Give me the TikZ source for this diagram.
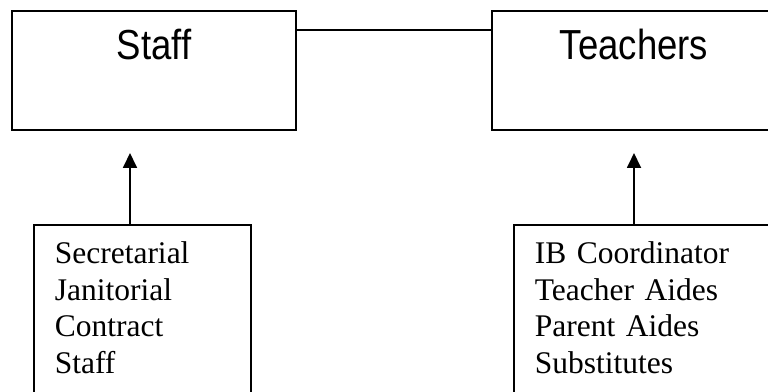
\documentclass[tikz,border=0pt]{standalone}
\usepackage{fontspec}
\setmainfont{Liberation Serif}
\newfontfamily\headfont[FakeStretch=0.87]{Liberation Sans}
\usetikzlibrary{arrows.meta, positioning}

\tikzset{
  headbox/.style={draw, line width=2pt, rectangle, minimum width=284pt, inner xsep=0pt, inner ysep=0pt,
    text height=49pt, text depth=70pt, font=\headfont\fontsize{42}{50}\selectfont},
  listbox/.style={draw, line width=1.6pt, rectangle, align=left, anchor=north west, text width=175pt,
    inner xsep=21pt, inner ysep=0pt, text height=39pt, text depth=145pt, font=\fontsize{31.5}{36.5}\selectfont},
  uparrow/.style={line width=1.8pt, -{Triangle[length=15pt,width=14pt]}}
}

\begin{document}
\begin{tikzpicture}[x=1pt, y=1pt]
    \useasboundingbox (0,0) rectangle (768,391);
    \clip (0,0) rectangle (768,391);

    \node[headbox, anchor=base] (staff) at (154,331) {Staff};
    \node[headbox, right=194pt of staff] (teachers) {Teachers};

    \draw[line width=2pt] ([yshift=-20pt]staff.north east) -- ([yshift=-20pt]teachers.north west);

    \node[listbox] (support) at (33,167) {Secretarial\\Janitorial\\Contract\\Staff};
    \node[listbox, text width=218pt] (aides) at (513,167) {IB Coordinator\\Teacher Aides\\Parent Aides\\Substitutes};

    \coordinate (stafftip) at (130,238);
    \coordinate (teachtip) at (634,238);
    \draw[uparrow] (stafftip |- support.north) -- (stafftip);
    \draw[uparrow] (teachtip |- aides.north) -- (teachtip);
\end{tikzpicture}
\end{document}
